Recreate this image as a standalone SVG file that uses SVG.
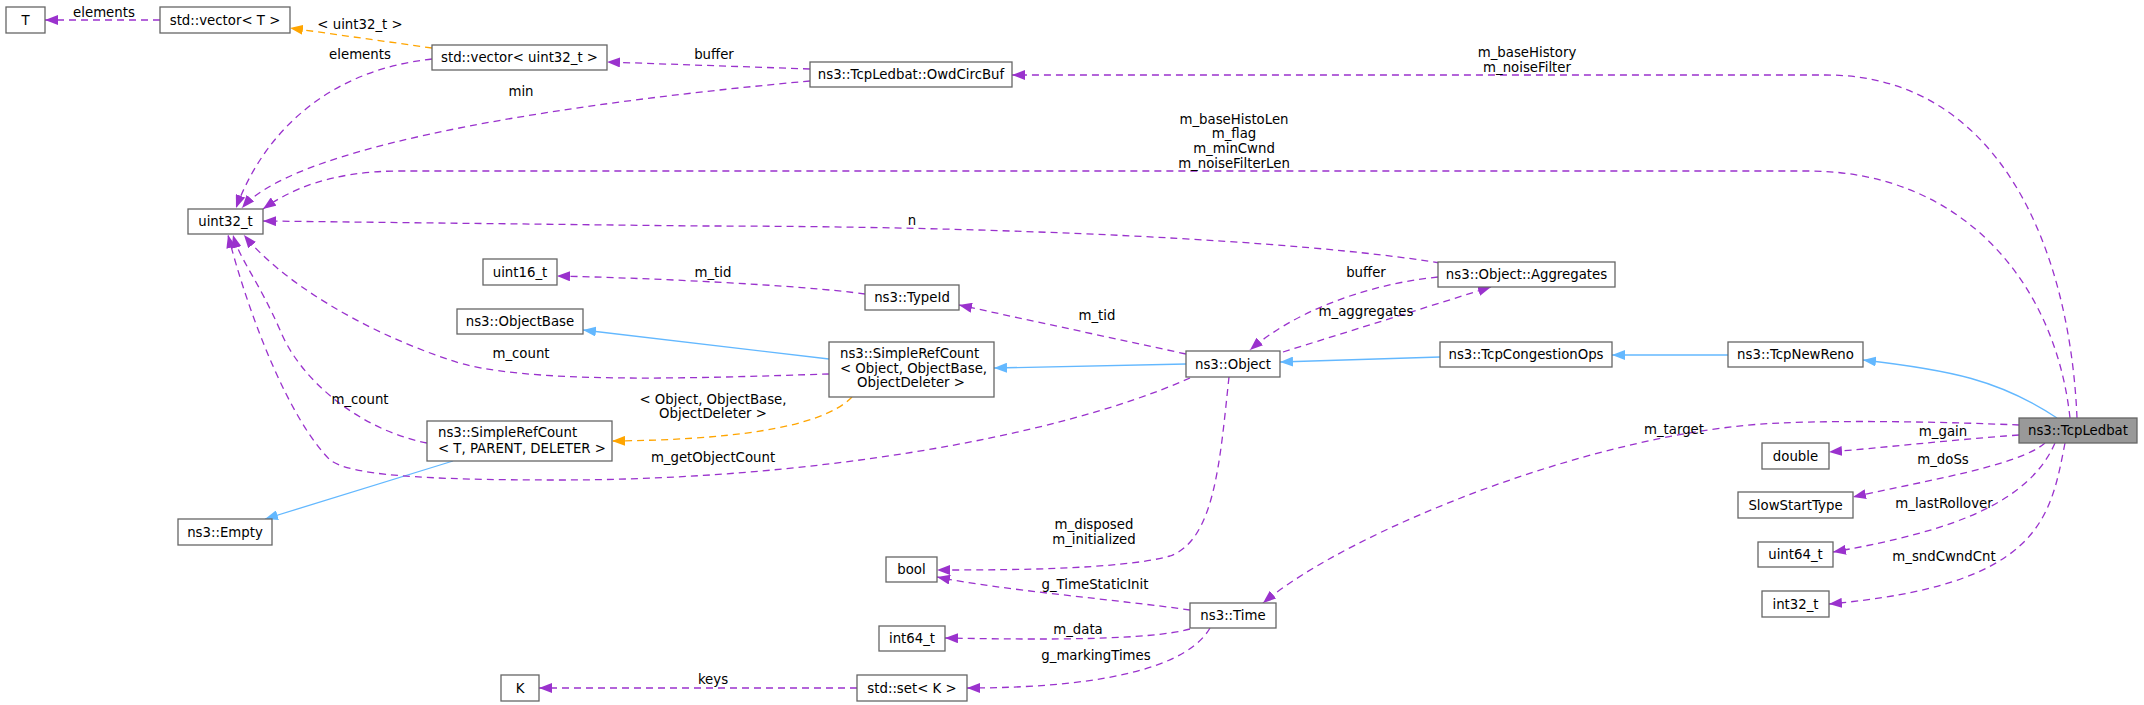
<svg xmlns="http://www.w3.org/2000/svg" width="2144" height="705" viewBox="0 0 2144 705">
<style>
text{font-family:"DejaVu Sans","Liberation Sans",sans-serif;font-size:13.3px;fill:#000}
.n rect{fill:#fff;stroke:#666;stroke-width:1.3}
.n text{text-anchor:middle}
.hl rect{fill:#999}
.lbl{text-anchor:middle}
.e path{fill:none;stroke-width:1.3}
.p{stroke:#9a32cd;stroke-dasharray:7,5}
.o{stroke:#ffa500;stroke-dasharray:7,5}
.b{stroke:#63b8ff}
</style>
<defs>
<marker id="ap" markerWidth="14" markerHeight="10" refX="13" refY="5" orient="auto" markerUnits="userSpaceOnUse"><path d="M0,0L13,5L0,10z" fill="#9a32cd"/></marker>
<marker id="ao" markerWidth="14" markerHeight="10" refX="13" refY="5" orient="auto" markerUnits="userSpaceOnUse"><path d="M0,0L13,5L0,10z" fill="#ffa500"/></marker>
<marker id="ab" markerWidth="14" markerHeight="10" refX="13" refY="5" orient="auto" markerUnits="userSpaceOnUse"><path d="M0,0L13,5L0,10z" fill="#63b8ff"/></marker>
</defs>
<rect width="2144" height="705" fill="#fff"/>
<g class="e" id="edges">
<path class="p" marker-end="url(#ap)" d="M160,20L45,20"/>
<path class="o" marker-end="url(#ao)" d="M432,48L290,28"/>
<path class="p" marker-end="url(#ap)" d="M432,59C330,70 265,130 236,208"/>
<path class="p" marker-end="url(#ap)" d="M810,69L607,62"/>
<path class="p" marker-end="url(#ap)" d="M810,81C600,100 300,140 242,208"/>
<path class="p" marker-end="url(#ap)" d="M2070,418C2055,280 1960,171 1808,171L400,171C330,171 290,190 263,209"/>
<path class="p" marker-end="url(#ap)" d="M1440,263C1300,240 1000,226 700,226L263,221"/>
<path class="p" marker-end="url(#ap)" d="M865,294C800,285 650,278 557,276"/>
<path class="b" marker-end="url(#ab)" d="M829,359L583,330"/>
<path class="p" marker-end="url(#ap)" d="M829,374C700,378 520,385 450,360C360,330 280,280 244,235"/>
<path class="p" marker-end="url(#ap)" d="M427,443C360,430 300,380 280,330C258,280 240,260 233,235"/>
<path class="o" marker-end="url(#ao)" d="M852,397C820,430 720,440 612,441"/>
<path class="b" marker-end="url(#ab)" d="M453,461L265,519"/>
<path class="b" marker-end="url(#ab)" d="M1186,364L994,368"/>
<path class="p" marker-end="url(#ap)" d="M1190,378C1050,440 800,480 560,480C420,480 350,475 330,460C290,420 250,320 228,235"/>
<path class="p" marker-end="url(#ap)" d="M1186,354L959,305"/>
<path class="p" marker-end="url(#ap)" d="M1438,277C1360,285 1290,315 1250,350"/>
<path class="p" marker-end="url(#ap)" d="M1283,352L1491,287"/>
<path class="b" marker-end="url(#ab)" d="M1440,357L1280,362"/>
<path class="b" marker-end="url(#ab)" d="M1728,355L1612,355"/>
<path class="b" marker-end="url(#ab)" d="M2057,418C2000,380 1950,370 1863,360"/>
<path class="p" marker-end="url(#ap)" d="M2077,418C2070,250 2000,75 1826,75L1012,75"/>
<path class="p" marker-end="url(#ap)" d="M2019,425C1950,422 1850,420 1780,423C1600,430 1350,530 1263,603"/>
<path class="p" marker-end="url(#ap)" d="M2019,435C1950,440 1880,448 1829,452"/>
<path class="p" marker-end="url(#ap)" d="M2045,443C2020,465 1930,480 1853,497"/>
<path class="p" marker-end="url(#ap)" d="M2055,443C2030,500 1960,530 1833,552"/>
<path class="p" marker-end="url(#ap)" d="M2065,443C2050,520 2040,585 1829,604"/>
<path class="p" marker-end="url(#ap)" d="M1229,377C1220,460 1215,540 1170,556C1120,570 1000,570 937,570"/>
<path class="p" marker-end="url(#ap)" d="M1190,610C1120,600 1000,590 937,577"/>
<path class="p" marker-end="url(#ap)" d="M1190,629C1150,640 1050,640 945,638"/>
<path class="p" marker-end="url(#ap)" d="M1210,628C1180,680 1050,688 967,688"/>
<path class="p" marker-end="url(#ap)" d="M857,688L539,688"/>
<text class="lbl" x="104" y="17">elements</text>
<text class="lbl" x="360" y="29">&lt; uint32_t &gt;</text>
<text class="lbl" x="360" y="59">elements</text>
<text class="lbl" x="714" y="59">buffer</text>
<text class="lbl" x="521" y="96">min</text>
<text class="lbl" x="1527" y="57">m_baseHistory</text>
<text class="lbl" x="1527" y="72">m_noiseFilter</text>
<text class="lbl" x="1234" y="124">m_baseHistoLen</text>
<text class="lbl" x="1234" y="138">m_flag</text>
<text class="lbl" x="1234" y="153">m_minCwnd</text>
<text class="lbl" x="1234" y="168">m_noiseFilterLen</text>
<text class="lbl" x="912" y="225">n</text>
<text class="lbl" x="713" y="277">m_tid</text>
<text class="lbl" x="1097" y="320">m_tid</text>
<text class="lbl" x="1366" y="277">buffer</text>
<text class="lbl" x="1366" y="316">m_aggregates</text>
<text class="lbl" x="521" y="358">m_count</text>
<text class="lbl" x="360" y="404">m_count</text>
<text class="lbl" x="713" y="404">&lt; Object, ObjectBase,</text>
<text class="lbl" x="713" y="418">ObjectDeleter &gt;</text>
<text class="lbl" x="713" y="462">m_getObjectCount</text>
<text class="lbl" x="1094" y="529">m_disposed</text>
<text class="lbl" x="1094" y="544">m_initialized</text>
<text class="lbl" x="1095" y="589">g_TimeStaticInit</text>
<text class="lbl" x="1078" y="634">m_data</text>
<text class="lbl" x="1096" y="660">g_markingTimes</text>
<text class="lbl" x="713" y="684">keys</text>
<text class="lbl" x="1674" y="434">m_target</text>
<text class="lbl" x="1943" y="436">m_gain</text>
<text class="lbl" x="1943" y="464">m_doSs</text>
<text class="lbl" x="1944" y="508">m_lastRollover</text>
<text class="lbl" x="1944" y="561">m_sndCwndCnt</text>
</g>
<g class="n" id="n_T"><rect x="6" y="7" width="39" height="26"/><text x="25.5" y="25">T</text></g>
<g class="n" id="n_vecT"><rect x="160" y="7" width="130" height="26"/><text x="225" y="25">std::vector&lt; T &gt;</text></g>
<g class="n" id="n_vecU"><rect x="432" y="45" width="175" height="25"/><text x="519.5" y="62">std::vector&lt; uint32_t &gt;</text></g>
<g class="n" id="n_uint32"><rect x="188" y="209" width="75" height="25"/><text x="225.5" y="226">uint32_t</text></g>
<g class="n" id="n_owd"><rect x="810" y="62" width="202" height="25"/><text x="911" y="79">ns3::TcpLedbat::OwdCircBuf</text></g>
<g class="n" id="n_uint16"><rect x="483" y="259" width="74" height="26"/><text x="520" y="277">uint16_t</text></g>
<g class="n" id="n_objbase"><rect x="457" y="309" width="126" height="25"/><text x="520" y="326">ns3::ObjectBase</text></g>
<g class="n" id="n_typeid"><rect x="865" y="285" width="94" height="25"/><text x="912" y="302">ns3::TypeId</text></g>
<g class="n" id="n_srcObj"><rect x="829" y="342" width="165" height="55"/><text x="840" y="358" style="text-anchor:start">ns3::SimpleRefCount</text><text x="840" y="373" style="text-anchor:start">&lt; Object, ObjectBase,</text><text x="911" y="387">ObjectDeleter &gt;</text></g>
<g class="n" id="n_srcT"><rect x="427" y="421" width="185" height="40"/><text x="438" y="437" style="text-anchor:start">ns3::SimpleRefCount</text><text x="438" y="453" style="text-anchor:start">&lt; T, PARENT, DELETER &gt;</text></g>
<g class="n" id="n_empty"><rect x="178" y="519" width="94" height="26"/><text x="225" y="537">ns3::Empty</text></g>
<g class="n" id="n_object"><rect x="1186" y="351" width="94" height="26"/><text x="1233" y="369">ns3::Object</text></g>
<g class="n" id="n_aggr"><rect x="1438" y="262" width="177" height="25"/><text x="1526.5" y="279">ns3::Object::Aggregates</text></g>
<g class="n" id="n_tco"><rect x="1440" y="342" width="172" height="25"/><text x="1526" y="359">ns3::TcpCongestionOps</text></g>
<g class="n" id="n_reno"><rect x="1728" y="342" width="135" height="25"/><text x="1795.5" y="359">ns3::TcpNewReno</text></g>
<g class="n hl" id="n_ledbat"><rect x="2019" y="418" width="118" height="25"/><text x="2078" y="435">ns3::TcpLedbat</text></g>
<g class="n" id="n_double"><rect x="1762" y="443" width="67" height="26"/><text x="1795.5" y="461">double</text></g>
<g class="n" id="n_sst"><rect x="1738" y="492" width="115" height="26"/><text x="1795.5" y="510">SlowStartType</text></g>
<g class="n" id="n_uint64"><rect x="1758" y="542" width="75" height="25"/><text x="1795.5" y="559">uint64_t</text></g>
<g class="n" id="n_int32"><rect x="1762" y="591" width="67" height="26"/><text x="1795.5" y="609">int32_t</text></g>
<g class="n" id="n_bool"><rect x="886" y="557" width="51" height="25"/><text x="911.5" y="574">bool</text></g>
<g class="n" id="n_time"><rect x="1190" y="603" width="86" height="25"/><text x="1233" y="620">ns3::Time</text></g>
<g class="n" id="n_int64"><rect x="879" y="626" width="66" height="25"/><text x="912" y="643">int64_t</text></g>
<g class="n" id="n_K"><rect x="501" y="675" width="38" height="26"/><text x="520" y="693">K</text></g>
<g class="n" id="n_set"><rect x="857" y="675" width="110" height="26"/><text x="912" y="693">std::set&lt; K &gt;</text></g>
</svg>
